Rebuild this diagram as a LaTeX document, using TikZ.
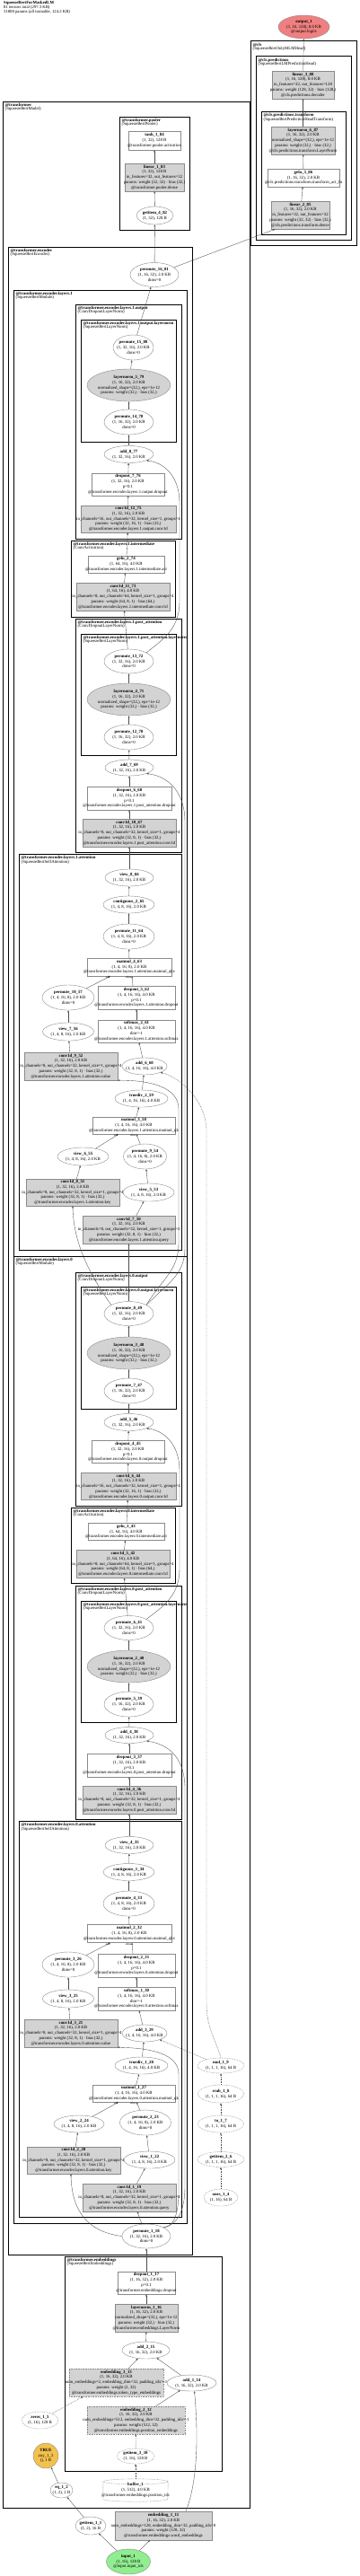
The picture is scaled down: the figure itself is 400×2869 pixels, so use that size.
\documentclass[tikz,border=0pt]{standalone}
\usepackage{fontspec}
\setmainfont{Liberation Serif}
\usepackage{tikz}
\usetikzlibrary{arrows.meta,shapes.geometric}
\definecolor{opline}{HTML}{8A8A8A}
\definecolor{parfill}{HTML}{D3D3D3}
\definecolor{edgec}{HTML}{4D4D4D}
\definecolor{outfill}{HTML}{F08080}
\definecolor{infill}{HTML}{90EE90}
\definecolor{boolfill}{HTML}{F2C14E}
\newcommand{\opfont}{\fontsize{4.8}{5.8}\selectfont}
\newcommand{\clusfont}{\fontsize{4.8}{4.4}\selectfont}
\newcommand{\titlefont}{\fontsize{4.7}{4.7}\selectfont}
\tikzset{
  op/.style={draw=opline,line width=0.4pt,inner sep=0pt},
  opbox/.style={op,rectangle},
  parbox/.style={opbox,fill=parfill},
  opell/.style={op,ellipse},
  parell/.style={opell,fill=parfill},
  const/.style={dash pattern=on 0.8pt off 0.8pt},
  sz/.style 2 args={minimum width=#1pt,minimum height=#2pt},
  txt/.style={font=\opfont,align=center,inner sep=0pt},
  info/.style={label={[txt]center:{#1}}},
  cluster/.style={draw=black,line width=1pt},
  clab/.style={font=\clusfont,align=left,anchor=north west,inner sep=0pt,xshift=2.5pt,yshift=-1.5pt},
  flow/.style={draw=edgec,line width=0.35pt,-{Triangle[length=2.2pt,width=1.8pt]}},
  flowc/.style={flow,const},
  elab/.style={font=\fontsize{3.2}{3.4}\selectfont,inner sep=0.3pt,anchor=north east},
}
\begin{document}
\begin{tikzpicture}[x=1pt,y=-1pt]
  \fill[white] (0,0) rectangle (400,2869);
  \useasboundingbox (0,0) rectangle (400,2869);
  \node[font=\titlefont,align=left,anchor=north west,inner sep=0pt] (title) at (4,1.5)
    {\textbf{SqueezeBertForMaskedLM}\\81 tensors total (297.3 KB)\\31808 params (all trainable, 124.2 KB)};

  % --- clusters ---
  \draw[cluster] (279,46) rectangle (397,273);
  \node[clab] at (279,46) {\textbf{@cls}\\(SqueezeBertOnlyMLMHead)};
  \draw[cluster] (285,63) rectangle (391,267);
  \node[clab] at (285,63) {\textbf{@cls.predictions}\\(SqueezeBertLMPredictionHead)};
  \draw[cluster] (291,124) rectangle (385,261);
  \node[clab] at (291,124) {\textbf{@cls.predictions.transform}\\(SqueezeBertPredictionHeadTransform)};
  \draw[cluster] (3,113) rectangle (278,2793);
  \node[clab] at (3,113) {\textbf{@transformer}\\(SqueezeBertModel)};
  \draw[cluster] (133,130) rectangle (211,256);
  \node[clab] at (133,130) {\textbf{@transformer.pooler}\\(SqueezeBertPooler)};
  \draw[cluster] (9,275) rectangle (214,2511);
  \node[clab] at (9,275) {\textbf{@transformer.encoder}\\(SqueezeBertEncoder)};
  % layer 1
  \draw[cluster] (15,323) rectangle (208,1399);
  \node[clab] at (15,323) {\textbf{@transformer.encoder.layers.1}\\(SqueezeBertModule)};
  \draw[cluster] (84,339) rectangle (202,600);
  \node[clab] at (84,339) {\textbf{@transformer.encoder.layers.1.output}\\(ConvDropoutLayerNorm)};
  \draw[cluster] (90,356) rectangle (196,492);
  \node[clab] at (90,356) {\textbf{@transformer.encoder.layers.1.output.layernorm}\\(SqueezeBertLayerNorm)};
  \draw[cluster] (79,602) rectangle (195,687);
  \node[clab] at (79,602) {\textbf{@transformer.encoder.layers.1.intermediate}\\(ConvActivation)};
  \draw[cluster] (84,689) rectangle (202,949);
  \node[clab] at (84,689) {\textbf{@transformer.encoder.layers.1.post\_attention}\\(ConvDropoutLayerNorm)};
  \draw[cluster] (90,706) rectangle (196,841);
  \node[clab] at (90,706) {\textbf{@transformer.encoder.layers.1.post\_attention.layernorm}\\(SqueezeBertLayerNorm)};
  \draw[cluster] (21,951) rectangle (202,1392);
  \node[clab] at (21,951) {\textbf{@transformer.encoder.layers.1.attention}\\(SqueezeBertSelfAttention)};
  % layer 0
  \draw[cluster] (15,1399) rectangle (208,2476);
  \node[clab] at (15,1399) {\textbf{@transformer.encoder.layers.0}\\(SqueezeBertModule)};
  \draw[cluster] (84,1417) rectangle (202,1677);
  \node[clab] at (84,1417) {\textbf{@transformer.encoder.layers.0.output}\\(ConvDropoutLayerNorm)};
  \draw[cluster] (90,1433) rectangle (196,1569);
  \node[clab] at (90,1433) {\textbf{@transformer.encoder.layers.0.output.layernorm}\\(SqueezeBertLayerNorm)};
  \draw[cluster] (79,1679) rectangle (195,1763);
  \node[clab] at (79,1679) {\textbf{@transformer.encoder.layers.0.intermediate}\\(ConvActivation)};
  \draw[cluster] (84,1766) rectangle (202,2026);
  \node[clab] at (84,1766) {\textbf{@transformer.encoder.layers.0.post\_attention}\\(ConvDropoutLayerNorm)};
  \draw[cluster] (90,1783) rectangle (196,1918);
  \node[clab] at (90,1783) {\textbf{@transformer.encoder.layers.0.post\_attention.layernorm}\\(SqueezeBertLayerNorm)};
  \draw[cluster] (21,2028) rectangle (202,2469);
  \node[clab] at (21,2028) {\textbf{@transformer.encoder.layers.0.attention}\\(SqueezeBertSelfAttention)};
  \draw[cluster] (72,2513) rectangle (247,2752);
  \node[clab] at (72,2513) {\textbf{@transformer.embeddings}\\(SqueezeBertEmbeddings)};

  % --- head ---
  \node[opell,fill=outfill,sz={57}{26},info={\textbf{output\_1}\\(1, 16, 128), 8.0 KB\\@output.logits}] (out1) at (338.5,30) {};
  \node[parbox,sz={69}{31},info={\textbf{linear\_3\_88}\\(1, 16, 128), 8.0 KB\\in\_features=32, out\_features=128\\params: weight (128, 32) · bias (128,)\\@cls.predictions.decoder}] (lin3) at (337.5,94.5) {};
  \node[parbox,sz={71}{31},info={\textbf{layernorm\_6\_87}\\(1, 16, 32), 2.0 KB\\normalized\_shape=(32,), eps=1e-12\\params: weight (32,) · bias (32,)\\@cls.predictions.transform.LayerNorm}] (ln6) at (337.5,156.5) {};
  \node[opbox,sz={80}{20},info={\textbf{gelu\_3\_86}\\(1, 16, 32), 2.0 KB\\@cls.predictions.transform.transform\_act\_fn}] (ge3) at (338,198) {};
  \node[parbox,sz={65}{31},info={\textbf{linear\_2\_85}\\(1, 16, 32), 2.0 KB\\in\_features=32, out\_features=32\\params: weight (32, 32) · bias (32,)\\@cls.predictions.transform.dense}] (lin2) at (334.5,239.5) {};

  % --- pooler ---
  \node[opbox,sz={58}{21},info={\textbf{tanh\_1\_84}\\(1, 32), 128 B\\@transformer.pooler.activation}] (tanh1) at (172,156.5) {};
  \node[parbox,sz={66}{31},info={\textbf{linear\_1\_83}\\(1, 32), 128 B\\in\_features=32, out\_features=32\\params: weight (32, 32) · bias (32,)\\@transformer.pooler.dense}] (lin1) at (172,197.5) {};
  \node[opell,sz={41}{20},info={\textbf{getitem\_4\_82}\\(1, 32), 128 B}] (gi4) at (172.5,240) {};
  \node[opell,sz={54}{27},info={\textbf{permute\_16\_81}\\(1, 16, 32), 2.0 KB\\dims=0}] (pm16) at (172,306) {};

  % --- layer 1 ---
  \node[opell,sz={45}{28},info={\textbf{permute\_15\_80}\\(1, 32, 16), 2.0 KB\\dims=0}] (pm15) at (148.5,387) {};
  \node[parell,sz={93}{36},info={\textbf{layernorm\_5\_79}\\(1, 16, 32), 2.0 KB\\normalized\_shape=(32,), eps=1e-12\\params: weight (32,) · bias (32,)}] (ln5) at (143.5,429) {};
  \node[opell,sz={55}{28},info={\textbf{permute\_14\_78}\\(1, 16, 32), 2.0 KB\\dims=0}] (pm14) at (143.5,470) {};
  \node[opell,sz={55}{19},info={\textbf{add\_8\_77}\\(1, 32, 16), 2.0 KB}] (ad8) at (143.5,506) {};
  \node[opbox,sz={81}{25},info={\textbf{dropout\_7\_76}\\(1, 32, 16), 2.0 KB\\p=0.1\\@transformer.encoder.layers.1.output.dropout}] (dp7) at (142.5,539.5) {};
  \node[parbox,sz={106}{30},info={\textbf{conv1d\_12\_75}\\(1, 32, 16), 2.0 KB\\in\_channels=16, out\_channels=32, kernel\_size=1, groups=4\\params: weight (32, 16, 1) · bias (32,)\\@transformer.encoder.layers.1.output.conv1d}] (cv12) at (143,578) {};
  \node[opbox,sz={85}{19},info={\textbf{gelu\_2\_74}\\(1, 64, 16), 4.0 KB\\@transformer.encoder.layers.1.intermediate.act}] (ge2) at (140.5,628.5) {};
  \node[parbox,sz={104}{31},info={\textbf{conv1d\_11\_73}\\(1, 64, 16), 4.0 KB\\in\_channels=8, out\_channels=64, kernel\_size=1, groups=4\\params: weight (64, 8, 1) · bias (64,)\\@transformer.encoder.layers.1.intermediate.conv1d}] (cv11) at (137,664.5) {};
  \node[opell,sz={55}{27},info={\textbf{permute\_13\_72}\\(1, 32, 16), 2.0 KB\\dims=0}] (pm13) at (143.5,736.5) {};
  \node[parell,sz={93}{36},info={\textbf{layernorm\_4\_71}\\(1, 16, 32), 2.0 KB\\normalized\_shape=(32,), eps=1e-12\\params: weight (32,) · bias (32,)}] (ln4) at (143.5,779) {};
  \node[opell,sz={55}{28},info={\textbf{permute\_12\_70}\\(1, 16, 32), 2.0 KB\\dims=0}] (pm12) at (143.5,821) {};
  \node[opell,sz={54}{18},info={\textbf{add\_7\_69}\\(1, 32, 16), 2.0 KB}] (ad7) at (144,855) {};
  \node[opbox,sz={94}{26},info={\textbf{dropout\_6\_68}\\(1, 32, 16), 2.0 KB\\p=0.1\\@transformer.encoder.layers.1.post\_attention.dropout}] (dp6) at (144,889) {};
  \node[parbox,sz={104}{31},info={\textbf{conv1d\_10\_67}\\(1, 32, 16), 2.0 KB\\in\_channels=8, out\_channels=32, kernel\_size=1, groups=4\\params: weight (32, 8, 1) · bias (32,)\\@transformer.encoder.layers.1.post\_attention.conv1d}] (cv10) at (144,927.5) {};
  \node[opell,sz={54}{19},info={\textbf{view\_8\_66}\\(1, 32, 16), 2.0 KB}] (vw8) at (144,977.5) {};
  \node[opell,sz={57}{19},info={\textbf{contiguous\_2\_65}\\(1, 4, 8, 16), 2.0 KB}] (ct2) at (143.5,1007.5) {};
  \node[opell,sz={57}{28},info={\textbf{permute\_11\_64}\\(1, 4, 8, 16), 2.0 KB\\dims=0}] (pm11) at (143.5,1043) {};
  \node[opbox,sz={94}{20},info={\textbf{matmul\_4\_63}\\(1, 4, 16, 8), 2.0 KB\\@transformer.encoder.layers.1.attention.matmul\_qkv}] (mm4) at (144,1077) {};
  \node[opell,sz={58}{28},info={\textbf{permute\_10\_57}\\(1, 4, 16, 8), 2.0 KB\\dims=0}] (pm10) at (76,1111) {};
  \node[opbox,sz={86}{26},info={\textbf{dropout\_5\_62}\\(1, 4, 16, 16), 4.0 KB\\p=0.1\\@transformer.encoder.layers.1.attention.dropout}] (dp5) at (152,1111) {};
  \node[opell,sz={57}{20},info={\textbf{view\_7\_56}\\(1, 4, 8, 16), 2.0 KB}] (vw7) at (76,1149) {};
  \node[opbox,sz={86}{25},info={\textbf{softmax\_2\_61}\\(1, 4, 16, 16), 4.0 KB\\dim=-1\\@transformer.encoder.layers.1.attention.softmax}] (sm2) at (152,1148.5) {};
  \node[parbox,sz={104}{31},info={\textbf{conv1d\_9\_52}\\(1, 32, 16), 2.0 KB\\in\_channels=8, out\_channels=32, kernel\_size=1, groups=4\\params: weight (32, 8, 1) · bias (32,)\\@transformer.encoder.layers.1.attention.value}] (cv9) at (79,1187.5) {};
  \node[opell,sz={50}{19},info={\textbf{add\_6\_60}\\(1, 4, 16, 16), 4.0 KB}] (ad6) at (161,1187.5) {};
  \node[opell,sz={59}{19},info={\textbf{truediv\_2\_59}\\(1, 4, 16, 16), 4.0 KB}] (td2) at (157.5,1223.5) {};
  \node[opbox,sz={92}{19},info={\textbf{matmul\_3\_58}\\(1, 4, 16, 16), 4.0 KB\\@transformer.encoder.layers.1.attention.matmul\_qk}] (mm3) at (149,1253.5) {};
  \node[opell,sz={57}{20},info={\textbf{view\_6\_55}\\(1, 4, 8, 16), 2.0 KB}] (vw6) at (92.5,1288) {};
  \node[opell,sz={48}{28},info={\textbf{permute\_9\_54}\\(1, 4, 16, 8), 2.0 KB\\dims=0}] (pm9) at (161.5,1288) {};
  \node[parbox,sz={104}{30},info={\textbf{conv1d\_8\_51}\\(1, 32, 16), 2.0 KB\\in\_channels=8, out\_channels=32, kernel\_size=1, groups=4\\params: weight (32, 8, 1) · bias (32,)\\@transformer.encoder.layers.1.attention.key}] (cv8) at (81,1328) {};
  \node[opell,sz={57}{20},info={\textbf{view\_5\_53}\\(1, 4, 8, 16), 2.0 KB}] (vw5) at (165.5,1328) {};
  \node[parbox,sz={103}{31},info={\textbf{conv1d\_7\_50}\\(1, 32, 16), 2.0 KB\\in\_channels=8, out\_channels=32, kernel\_size=1, groups=4\\params: weight (32, 8, 1) · bias (32,)\\@transformer.encoder.layers.1.attention.query}] (cv7) at (143.5,1369.5) {};

  % --- layer 0 ---
  \node[opell,sz={55}{27},info={\textbf{permute\_8\_49}\\(1, 32, 16), 2.0 KB\\dims=0}] (pm8) at (143.5,1463) {};
  \node[parell,sz={93}{36},info={\textbf{layernorm\_3\_48}\\(1, 16, 32), 2.0 KB\\normalized\_shape=(32,), eps=1e-12\\params: weight (32,) · bias (32,)}] (ln3) at (143.5,1507) {};
  \node[opell,sz={55}{28},info={\textbf{permute\_7\_47}\\(1, 16, 32), 2.0 KB\\dims=0}] (pm7) at (143.5,1549) {};
  \node[opell,sz={55}{19},info={\textbf{add\_5\_46}\\(1, 32, 16), 2.0 KB}] (ad5) at (143.5,1584) {};
  \node[opbox,sz={81}{25},info={\textbf{dropout\_4\_45}\\(1, 32, 16), 2.0 KB\\p=0.1\\@transformer.encoder.layers.0.output.dropout}] (dp4) at (142.5,1617) {};
  \node[parbox,sz={106}{30},info={\textbf{conv1d\_6\_44}\\(1, 32, 16), 2.0 KB\\in\_channels=16, out\_channels=32, kernel\_size=1, groups=4\\params: weight (32, 16, 1) · bias (32,)\\@transformer.encoder.layers.0.output.conv1d}] (cv6) at (143,1655.5) {};
  \node[opbox,sz={85}{19},info={\textbf{gelu\_1\_43}\\(1, 64, 16), 4.0 KB\\@transformer.encoder.layers.0.intermediate.act}] (ge1) at (140.5,1706) {};
  \node[parbox,sz={104}{31},info={\textbf{conv1d\_5\_42}\\(1, 64, 16), 4.0 KB\\in\_channels=8, out\_channels=64, kernel\_size=1, groups=4\\params: weight (64, 8, 1) · bias (64,)\\@transformer.encoder.layers.0.intermediate.conv1d}] (cv5) at (137,1742) {};
  \node[opell,sz={55}{27},info={\textbf{permute\_6\_41}\\(1, 32, 16), 2.0 KB\\dims=0}] (pm6) at (143.5,1813) {};
  \node[parell,sz={93}{36},info={\textbf{layernorm\_2\_40}\\(1, 16, 32), 2.0 KB\\normalized\_shape=(32,), eps=1e-12\\params: weight (32,) · bias (32,)}] (ln2) at (143.5,1856) {};
  \node[opell,sz={55}{28},info={\textbf{permute\_5\_39}\\(1, 16, 32), 2.0 KB\\dims=0}] (pm5) at (143.5,1898) {};
  \node[opell,sz={54}{18},info={\textbf{add\_4\_38}\\(1, 32, 16), 2.0 KB}] (ad4) at (144,1932.5) {};
  \node[opbox,sz={94}{26},info={\textbf{dropout\_3\_37}\\(1, 32, 16), 2.0 KB\\p=0.1\\@transformer.encoder.layers.0.post\_attention.dropout}] (dp3) at (144,1966) {};
  \node[parbox,sz={104}{31},info={\textbf{conv1d\_4\_36}\\(1, 32, 16), 2.0 KB\\in\_channels=8, out\_channels=32, kernel\_size=1, groups=4\\params: weight (32, 8, 1) · bias (32,)\\@transformer.encoder.layers.0.post\_attention.conv1d}] (cv4) at (144,2004.5) {};
  \node[opell,sz={54}{19},info={\textbf{view\_4\_35}\\(1, 32, 16), 2.0 KB}] (vw4) at (144,2055) {};
  \node[opell,sz={57}{19},info={\textbf{contiguous\_1\_34}\\(1, 4, 8, 16), 2.0 KB}] (ct1) at (143.5,2085) {};
  \node[opell,sz={57}{28},info={\textbf{permute\_4\_33}\\(1, 4, 8, 16), 2.0 KB\\dims=0}] (pm4) at (143.5,2120) {};
  \node[opbox,sz={94}{20},info={\textbf{matmul\_2\_32}\\(1, 4, 16, 8), 2.0 KB\\@transformer.encoder.layers.0.attention.matmul\_qkv}] (mm2) at (144,2153.5) {};
  \node[opell,sz={58}{28},info={\textbf{permute\_3\_26}\\(1, 4, 16, 8), 2.0 KB\\dims=0}] (pm3) at (76,2188) {};
  \node[opbox,sz={86}{26},info={\textbf{dropout\_2\_31}\\(1, 4, 16, 16), 4.0 KB\\p=0.1\\@transformer.encoder.layers.0.attention.dropout}] (dp2) at (152,2189) {};
  \node[opell,sz={57}{20},info={\textbf{view\_3\_25}\\(1, 4, 8, 16), 2.0 KB}] (vw3) at (76,2226) {};
  \node[opbox,sz={86}{26},info={\textbf{softmax\_1\_30}\\(1, 4, 16, 16), 4.0 KB\\dim=-1\\@transformer.encoder.layers.0.attention.softmax}] (sm1) at (152,2226) {};
  \node[parbox,sz={104}{31},info={\textbf{conv1d\_3\_21}\\(1, 32, 16), 2.0 KB\\in\_channels=8, out\_channels=32, kernel\_size=1, groups=4\\params: weight (32, 8, 1) · bias (32,)\\@transformer.encoder.layers.0.attention.value}] (cv3) at (79,2264.5) {};
  \node[opell,sz={50}{19},info={\textbf{add\_3\_29}\\(1, 4, 16, 16), 4.0 KB}] (ad3) at (161,2264.5) {};
  \node[opell,sz={59}{19},info={\textbf{truediv\_1\_28}\\(1, 4, 16, 16), 4.0 KB}] (td1) at (157.5,2300.5) {};
  \node[opbox,sz={92}{19},info={\textbf{matmul\_1\_27}\\(1, 4, 16, 16), 4.0 KB\\@transformer.encoder.layers.0.attention.matmul\_qk}] (mm1) at (149,2331.5) {};
  \node[opell,sz={56}{19},info={\textbf{view\_2\_24}\\(1, 4, 8, 16), 2.0 KB}] (vw2) at (88,2365.5) {};
  \node[opell,sz={57}{28},info={\textbf{permute\_2\_23}\\(1, 4, 16, 8), 2.0 KB\\dims=0}] (pm2) at (162,2364) {};
  \node[parbox,sz={104}{30},info={\textbf{conv1d\_2\_20}\\(1, 32, 16), 2.0 KB\\in\_channels=8, out\_channels=32, kernel\_size=1, groups=4\\params: weight (32, 8, 1) · bias (32,)\\@transformer.encoder.layers.0.attention.key}] (cv2) at (82,2406) {};
  \node[opell,sz={57}{19},info={\textbf{view\_1\_22}\\(1, 4, 8, 16), 2.0 KB}] (vw1) at (166.5,2405.5) {};
  \node[parbox,sz={104}{31},info={\textbf{conv1d\_1\_19}\\(1, 32, 16), 2.0 KB\\in\_channels=8, out\_channels=32, kernel\_size=1, groups=4\\params: weight (32, 8, 1) · bias (32,)\\@transformer.encoder.layers.0.attention.query}] (cv1) at (144,2447.5) {};
  \node[opell,sz={54}{27},info={\textbf{permute\_1\_18}\\(1, 32, 16), 2.0 KB\\dims=0}] (pm1) at (163,2490.5) {};

  % --- attention mask ---
  \node[opell,const,sz={52}{17},info={\textbf{mul\_1\_9}\\(1, 1, 1, 16), 64 B}] (mul1) at (246,2300.5) {};
  \node[opell,const,sz={51}{20},info={\textbf{rsub\_1\_8}\\(1, 1, 1, 16), 64 B}] (rsub1) at (246,2332) {};
  \node[opell,const,sz={51}{19},info={\textbf{to\_1\_7}\\(1, 1, 1, 16), 64 B}] (to1) at (246,2365.5) {};
  \node[opell,const,sz={52}{17},info={\textbf{getitem\_2\_6}\\(1, 1, 1, 16), 64 B}] (gi2) at (246,2405) {};
  \node[opell,const,sz={38}{19},info={\textbf{ones\_1\_4}\\(1, 16), 64 B}] (ones1) at (246,2447.5) {};

  % --- embeddings ---
  \node[opbox,sz={64}{25},info={\textbf{dropout\_1\_17}\\(1, 16, 32), 2.0 KB\\p=0.1\\@transformer.embeddings.dropout}] (dp1) at (163,2542.5) {};
  \node[parbox,sz={70}{31},info={\textbf{layernorm\_1\_16}\\(1, 16, 32), 2.0 KB\\normalized\_shape=(32,), eps=1e-12\\params: weight (32,) · bias (32,)\\@transformer.embeddings.LayerNorm}] (ln1) at (163,2581.5) {};
  \node[opell,sz={53}{19},info={\textbf{add\_2\_15}\\(1, 16, 32), 2.0 KB}] (ad2) at (162.5,2617.5) {};
  \node[parbox,const,sz={105}{31},info={\textbf{embedding\_3\_13}\\(1, 16, 32), 2.0 KB\\num\_embeddings=2, embedding\_dim=32, padding\_idx=-1\\params: weight (2, 32)\\@transformer.embeddings.token\_type\_embeddings}] (emb3) at (129.5,2653.5) {};
  \node[opell,sz={55}{18},info={\textbf{add\_1\_14}\\(1, 16, 32), 2.0 KB}] (ad1) at (213.5,2654) {};
  \node[parbox,const,sz={109}{31},info={\textbf{embedding\_2\_12}\\(1, 16, 32), 2.0 KB\\num\_embeddings=512, embedding\_dim=32, padding\_idx=-1\\params: weight (512, 32)\\@transformer.embeddings.position\_embeddings}] (emb2) at (151.5,2695.5) {};
  \node[opell,const,sz={42}{17},info={\textbf{getitem\_3\_10}\\(1, 16), 128 B}] (gi3) at (151,2735.5) {};
  \node[opell,const,sz={41}{19},info={\textbf{zeros\_1\_5}\\(1, 16), 128 B}] (zeros1) at (44.5,2695.5) {};
  \node[op,circle,fill=boolfill,minimum size=28pt,info={\textbf{TRUE}\\any\_1\_3\\(), 1 B}] (any1) at (51,2735) {};
  \node[opell,sz={25}{17},info={\textbf{eq\_1\_2}\\(1, 2), 2 B}] (eq1) at (68.5,2773.5) {};
  \node[sz={72}{25},inner sep=0pt,info={\textbf{buffer\_1}\\(1, 512), 4.0 KB\\@transformer.embeddings.position\_ids}] (buf1) at (151,2773.5) {};
  \draw[op,const] ([yshift=-3pt]buf1.north west) -- ([yshift=3pt]buf1.south west)
    arc[start angle=180,end angle=360,x radius=36pt,y radius=3pt] -- ([yshift=-3pt]buf1.north east)
    arc[start angle=0,end angle=180,x radius=36pt,y radius=3pt]
    arc[start angle=180,end angle=360,x radius=36pt,y radius=3pt];
  \node[opell,sz={34}{20},info={\textbf{getitem\_1\_1}\\(1, 2), 16 B}] (gi1) at (101,2813) {};
  \node[parbox,sz={108}{32},info={\textbf{embedding\_1\_11}\\(1, 16, 32), 2.0 KB\\num\_embeddings=128, embedding\_dim=32, padding\_idx=0\\params: weight (128, 32)\\@transformer.embeddings.word\_embeddings}] (emb1) at (182,2813) {};
  \node[opell,fill=infill,sz={49}{28},info={\textbf{input\_1}\\(1, 16), 128 B\\@input.input\_ids}] (in1) at (143,2853) {};

  % --- connectors: head and pooler ---
  \draw[flow] (lin3) -- (out1);
  \draw[flow] (ln6) -- (lin3);
  \draw[flow] (ge3) -- (ln6);
  \draw[flow] (lin2) -- (ge3);
  \draw[flow] (pm16) -- ([xshift=-28pt]lin2.south);
  \draw[flow] (pm16) -- (gi4);
  \draw[flow] (gi4) -- (lin1);
  \draw[flow] (lin1) -- (tanh1);
  \draw[flow] (pm15) -- (pm16);

  % --- connectors: layer 1 ---
  \draw[flow] (ln5) -- (pm15);
  \draw[flow] (pm14) -- (ln5);
  \draw[flow] (ad8) -- (pm14);
  \draw[flow] (dp7) -- (ad8);
  \draw[flow] (cv12) -- (dp7);
  \draw[flow] (ge2) -- (cv12);
  \draw[flow] (cv11) -- (ge2);
  \draw[flow] (pm13) -- (cv11);
  \draw[flow] (pm13.north east) .. controls (182,712) and (200,700) .. (200,670) -- (200,560)
    .. controls (200,530) and (182,515) .. (ad8.south east);
  \draw[flow] (ln4) -- (pm13);
  \draw[flow] (pm12) -- (ln4);
  \draw[flow] (ad7) -- (pm12);
  \draw[flow] (dp6) -- (ad7);
  \draw[flow] (cv10) -- (dp6);
  \draw[flow] (vw8) -- (cv10);
  \draw[flow] (ct2) -- (vw8);
  \draw[flow] (pm11) -- (ct2);
  \draw[flow] (mm4) -- (pm11);
  \draw[flow] (pm10) -- ([xshift=-21pt]mm4.south) node[elab]{self};
  \draw[flow] ([xshift=-4pt]dp5.north) -- ([xshift=3pt]mm4.south) node[elab]{other};
  \draw[flow] (sm2) -- (dp5);
  \draw[flow] (ad6) -- (sm2);
  \draw[flow] (vw7) -- (pm10);
  \draw[flow] (cv9) -- (vw7);
  \draw[flow] (td2) -- (ad6);
  \draw[flow] (mm3) -- (td2);
  \draw[flow] (vw6) -- ([xshift=-17pt]mm3.south) node[elab]{self};
  \draw[flow] (pm9) -- ([xshift=3pt]mm3.south) node[elab]{other};
  \draw[flow] (cv8) -- (vw6);
  \draw[flow] (vw5) -- (pm9);
  \draw[flow] (cv7) -- (vw5);
  \draw[flow] (pm8) -- (cv7);
  \draw[flow] (pm8.north west) .. controls (100,1420) and (82,1385) .. (cv8.south);
  \draw[flow] (pm8.north east) .. controls (180,1425) and (199,1415) .. (199,1385) -- (199,1235)
    .. controls (199,1212) and (170,1203) .. (cv9.south east);
  \draw[flow] (pm8.north east) .. controls (186,1430) and (206,1420) .. (206,1390) -- (206,915)
    .. controls (206,885) and (190,865) .. (ad7.south east);

  % --- connectors: layer 0 ---
  \draw[flow] (ln3) -- (pm8);
  \draw[flow] (pm7) -- (ln3);
  \draw[flow] (ad5) -- (pm7);
  \draw[flow] (dp4) -- (ad5);
  \draw[flow] (cv6) -- (dp4);
  \draw[flow] (ge1) -- (cv6);
  \draw[flow] (cv5) -- (ge1);
  \draw[flow] (pm6) -- (cv5);
  \draw[flow] (pm6.north east) .. controls (182,1789) and (200,1777) .. (200,1747) -- (200,1638)
    .. controls (200,1608) and (182,1593) .. (ad5.south east);
  \draw[flow] (ln2) -- (pm6);
  \draw[flow] (pm5) -- (ln2);
  \draw[flow] (ad4) -- (pm5);
  \draw[flow] (dp3) -- (ad4);
  \draw[flow] (cv4) -- (dp3);
  \draw[flow] (vw4) -- (cv4);
  \draw[flow] (ct1) -- (vw4);
  \draw[flow] (pm4) -- (ct1);
  \draw[flow] (mm2) -- (pm4);
  \draw[flow] (pm3) -- ([xshift=-21pt]mm2.south) node[elab]{self};
  \draw[flow] ([xshift=-4pt]dp2.north) -- ([xshift=3pt]mm2.south) node[elab]{other};
  \draw[flow] (sm1) -- (dp2);
  \draw[flow] (ad3) -- (sm1);
  \draw[flow] (vw3) -- (pm3);
  \draw[flow] (cv3) -- (vw3);
  \draw[flow] (td1) -- (ad3);
  \draw[flow] (mm1) -- (td1);
  \draw[flow] (vw2) -- ([xshift=-17pt]mm1.south) node[elab]{self};
  \draw[flow] (pm2) -- ([xshift=3pt]mm1.south) node[elab]{other};
  \draw[flow] (cv2) -- (vw2);
  \draw[flow] (vw1) -- (pm2);
  \draw[flow] (cv1) -- (vw1);
  \draw[flow] (pm1) -- ([xshift=9pt]cv1.south);
  \draw[flow] (pm1.west) .. controls (100,2486) and (80,2465) .. ([xshift=-3pt]cv2.south);
  \draw[flow] (pm1.north east) .. controls (192,2480) and (199,2470) .. (199,2440) -- (199,2310)
    .. controls (199,2288) and (170,2281) .. (cv3.south east);
  \draw[flow] (pm1.north east) .. controls (196,2478) and (206,2465) .. (206,2435) -- (206,1992)
    .. controls (206,1960) and (190,1943) .. (ad4.south east);

  % --- connectors: mask ---
  \draw[flowc] (ones1) -- (gi2);
  \draw[flowc] (gi2) -- (to1);
  \draw[flowc] (to1) -- (rsub1);
  \draw[flowc] (rsub1) -- (mul1);
  \draw[flowc] (mul1) -- (ad3);
  \draw[flowc] (mul1.north) .. controls (240,2270) and (230,2260) .. (230,2230) -- (230,1260)
    .. controls (230,1225) and (200,1200) .. (ad6.south east);

  % --- connectors: embeddings ---
  \draw[flow] (dp1) -- (pm1);
  \draw[flow] (ln1) -- (dp1);
  \draw[flow] (ad2) -- (ln1);
  \draw[flow] ([xshift=13.5pt]emb3.north) -- (ad2);
  \draw[flow] (ad1) -- (ad2);
  \draw[flow] ([xshift=22pt]emb2.north) -- (ad1);
  \draw[flowc] (gi3) -- (emb2);
  \draw[flowc] (buf1) -- (gi3);
  \draw[flowc] (zeros1) -- ([xshift=-37pt]emb3.south);
  \draw[flow] ([xshift=25pt]emb1.north) .. controls (222,2760) and (220,2700) .. ([xshift=3pt]ad1.south);
  \draw[flow] (in1) -- ([xshift=-15pt]emb1.south);
  \draw[flow] (in1) -- (gi1);
  \draw[flow] (gi1) -- (eq1);
  \draw[flow] (eq1) -- (any1);
\end{tikzpicture}
\end{document}
